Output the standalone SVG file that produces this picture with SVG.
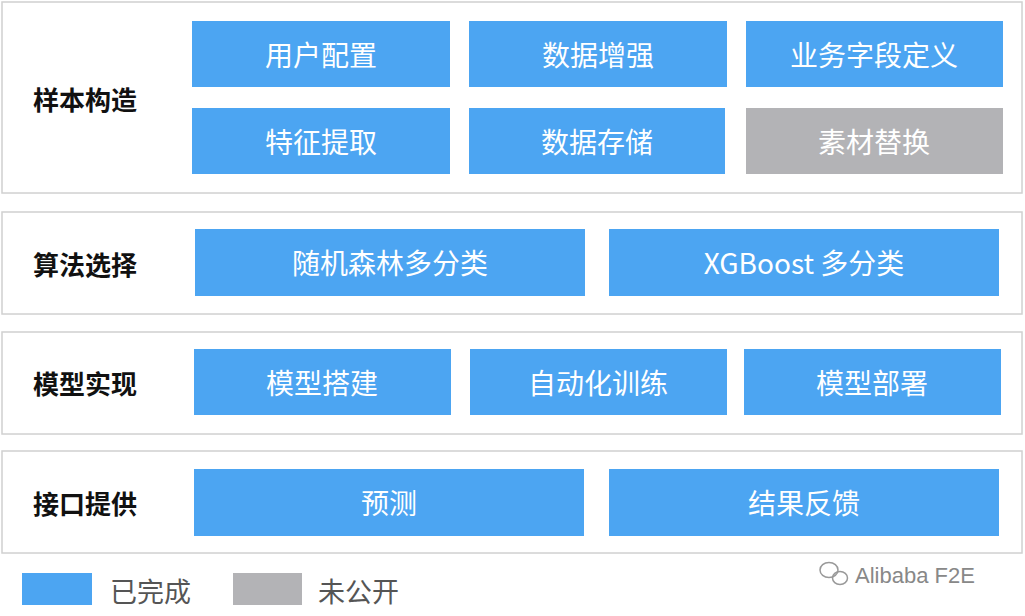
<svg xmlns="http://www.w3.org/2000/svg" width="1025" height="616" viewBox="0 0 1025 616">
<style>
.panel{fill:#fff;stroke:#d0d0d0;stroke-width:1.5}
.b{fill:#4ca5f2}
.g{fill:#b3b3b6}
.t{font-family:"Noto Sans CJK SC","Noto Sans",sans-serif;font-size:28px;fill:#fff;text-anchor:middle;dominant-baseline:central}
.h{font-family:"Noto Sans CJK SC",sans-serif;font-size:26px;font-weight:bold;fill:#111;dominant-baseline:central}
.l{font-family:"Noto Sans CJK SC",sans-serif;font-size:27px;fill:#555;dominant-baseline:central}
</style>
<rect width="1025" height="616" fill="#fff"/>
<g id="row1"><rect class="panel" x="2" y="2" width="1020" height="191"/><text class="h" x="33" y="98">样本构造</text></g>
<g id="row2"><rect class="panel" x="2" y="212" width="1020" height="102"/><text class="h" x="33" y="263">算法选择</text></g>
<g id="row3"><rect class="panel" x="2" y="332" width="1020" height="102"/><text class="h" x="33" y="382">模型实现</text></g>
<g id="row4"><rect class="panel" x="2" y="451" width="1020" height="102"/><text class="h" x="33" y="502">接口提供</text></g>
<g id="n1"><rect class="b" x="192" y="21" width="258" height="66"/><text class="t" x="321" y="54">用户配置</text></g>
<g id="n2"><rect class="b" x="469" y="21" width="258" height="66"/><text class="t" x="598" y="54">数据增强</text></g>
<g id="n3"><rect class="b" x="746" y="21" width="257" height="66"/><text class="t" x="874" y="54">业务字段定义</text></g>
<g id="n4"><rect class="b" x="192" y="108" width="258" height="66"/><text class="t" x="321" y="141">特征提取</text></g>
<g id="n5"><rect class="b" x="469" y="108" width="256" height="66"/><text class="t" x="597" y="141">数据存储</text></g>
<g id="n6"><rect class="g" x="746" y="108" width="257" height="66"/><text class="t" x="874" y="141">素材替换</text></g>
<g id="n7"><rect class="b" x="195" y="229" width="390" height="67"/><text class="t" x="390" y="262">随机森林多分类</text></g>
<g id="n8"><rect class="b" x="609" y="229" width="390" height="67"/><text class="t" x="804" y="262">XGBoost 多分类</text></g>
<g id="n9"><rect class="b" x="194" y="349" width="257" height="66"/><text class="t" x="322" y="382">模型搭建</text></g>
<g id="n10"><rect class="b" x="470" y="349" width="257" height="66"/><text class="t" x="598" y="382">自动化训练</text></g>
<g id="n11"><rect class="b" x="744" y="349" width="257" height="66"/><text class="t" x="872" y="382">模型部署</text></g>
<g id="n12"><rect class="b" x="194" y="469" width="390" height="67"/><text class="t" x="389" y="502">预测</text></g>
<g id="n13"><rect class="b" x="609" y="469" width="390" height="67"/><text class="t" x="804" y="502">结果反馈</text></g>
<g id="legend">
<rect class="b" x="22" y="573" width="70" height="32"/><text class="l" x="110" y="590">已完成</text>
<rect class="g" x="233" y="573" width="69" height="32"/><text class="l" x="318" y="590">未公开</text>
</g>
<g id="watermark" fill="none" stroke="#999" stroke-width="1.5">
<ellipse cx="829" cy="570" rx="9" ry="7.5"/><ellipse cx="840" cy="578" rx="7.5" ry="6.5"/>
<text x="855" y="583" fill="#888" stroke="none" font-family="'Liberation Sans',sans-serif" font-size="22">Alibaba F2E</text>
</g>
<g id="connectors"/>
</svg>
